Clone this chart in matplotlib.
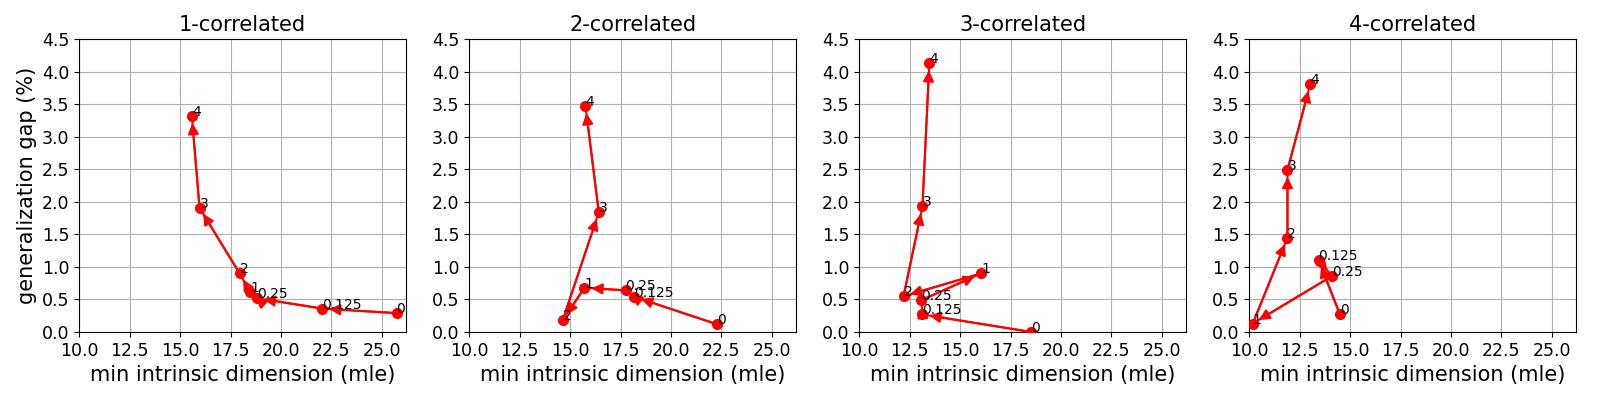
import matplotlib
matplotlib.use('Agg')
import matplotlib.pyplot as plt

# rank values, in the order the path is walked
labels = ['0', '0.125', '0.25', '1', '2', '3', '4']
titles = ['1-correlated', '2-correlated', '3-correlated', '4-correlated']

# min intrinsic dimension (mle) per panel
dim_1 = [25.73, 22.04, 18.81, 18.48, 17.95, 15.96, 15.58]
dim_2 = [22.27, 18.19, 17.75, 15.71, 14.63, 16.42, 15.76]
dim_3 = [18.53, 13.13, 13.08, 16.04, 12.19, 13.13, 13.47]
dim_4 = [14.48, 13.43, 14.10, 10.17, 11.89, 11.89, 13.02]

# generalization gap (%) per panel
gap_1 = [0.29, 0.36, 0.52, 0.61, 0.90, 1.91, 3.32]
gap_2 = [0.12, 0.54, 0.64, 0.68, 0.18, 1.84, 3.47]
gap_3 = [0.00, 0.27, 0.49, 0.90, 0.55, 1.93, 4.13]
gap_4 = [0.28, 1.11, 0.86, 0.13, 1.45, 2.49, 3.81]

dims = [dim_1, dim_2, dim_3, dim_4]
gaps = [gap_1, gap_2, gap_3, gap_4]

fig, axes = plt.subplots(1, 4, figsize=(16, 4), dpi=100)
fig.subplots_adjust(left=0.0496, right=0.985, bottom=0.17, top=0.9017, wspace=0.194)

for i, ax in enumerate(axes):
    x = dims[i]
    y = gaps[i]
    ax.plot(x, y, 'o-', color='red', lw=1.5, ms=7, zorder=3)
    for j in range(len(x) - 1):
        ax.annotate('', xy=(x[j + 1], y[j + 1]), xytext=(x[j], y[j]),
                    arrowprops=dict(arrowstyle='-|>', color='red', lw=1.5,
                                    shrinkA=0, shrinkB=5, mutation_scale=16),
                    zorder=4)
    for j in range(len(x)):
        ax.text(x[j], y[j], labels[j], fontsize=10, zorder=5)
    ax.set_xlim(10, 26.2)
    ax.set_ylim(0, 4.5)
    ax.set_xticks([10, 12.5, 15, 17.5, 20, 22.5, 25])
    ax.set_xticklabels(['10.0', '12.5', '15.0', '17.5', '20.0', '22.5', '25.0'])
    ax.set_yticks([0, 0.5, 1, 1.5, 2, 2.5, 3, 3.5, 4, 4.5])
    ax.tick_params(labelsize=12.5)
    ax.grid(True)
    ax.set_axisbelow(True)
    ax.set_title(titles[i], fontsize=15)
    ax.set_xlabel('min intrinsic dimension (mle)', fontsize=15)

axes[0].set_ylabel('generalization gap (%)', fontsize=15)

fig.savefig('out.png', dpi=100)
